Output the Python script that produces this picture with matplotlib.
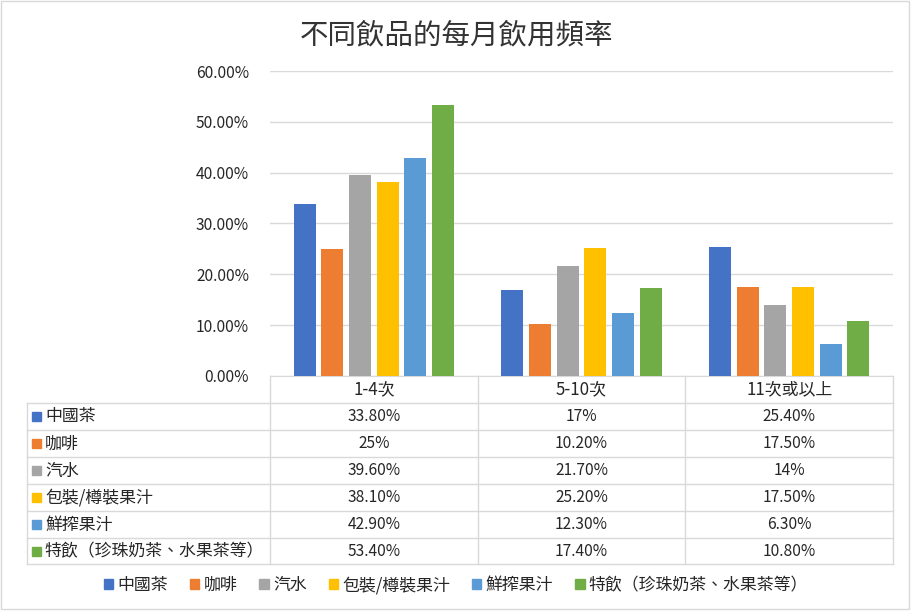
import matplotlib.pyplot as plt
from matplotlib.lines import Line2D
from matplotlib.patches import Rectangle
import numpy as np

plt.rcParams['font.family'] = ['Noto Sans CJK TC', 'DejaVu Sans']

title = '不同飲品的每月飲用頻率'
groups = ['1-4次', '5-10次', '11次或以上']
drinks = ['中國茶', '咖啡', '汽水', '包裝/樽裝果汁', '鮮搾果汁', '特飲（珍珠奶茶、水果茶等）']
tea = [33.8, 17, 25.4]
coffee = [25, 10.2, 17.5]
soda = [39.6, 21.7, 14]
packed_juice = [38.1, 25.2, 17.5]
fresh_juice = [42.9, 12.3, 6.3]
special = [53.4, 17.4, 10.8]
series = [tea, coffee, soda, packed_juice, fresh_juice, special]
colors = ['#4472C4', '#ED7D31', '#A5A5A5', '#FFC000', '#5B9BD5', '#70AD47']

W, H = 911, 612
line_c = '#d9d9d9'
txt_c = '#262626'
fs = 11.2
fs_cjk = 12.2

def fx(x):
    return x / W

def fy(y):
    return 1 - y / H

def fmt(v):
    if abs(v - round(v)) < 1e-9:
        return '%d%%' % round(v)
    return '%.2f%%' % v

fig = plt.figure(figsize=(W / 100, H / 100), dpi=100)

# chart border
fig.add_artist(Rectangle((fx(1), fy(609)), fx(908), fy(1) - fy(609),
                         transform=fig.transFigure, fill=False, ec=line_c, lw=1))

left, right, top, bottom = 270, 893, 71, 376
ax = fig.add_axes([fx(left), fy(bottom), fx(right - left), fy(top) - fy(bottom)])

step = 0.133
width = 0.106
x = np.arange(len(groups)) + 0.5
for i, vals in enumerate(series):
    off = (i - 2.5) * step
    ax.bar(x + off, np.array(vals) / 100, width=width, color=colors[i], zorder=3)

ax.set_xlim(0, 3)
ax.set_ylim(0, 0.6)
ax.set_yticks(np.arange(0, 0.61, 0.1))
ax.set_yticklabels(['%.2f%%' % (t * 100) for t in np.arange(0, 0.61, 0.1)],
                   fontsize=fs, color=txt_c)
ax.tick_params(axis='y', length=0, pad=15)
ax.set_xticks([])
ax.grid(axis='y', color=line_c, lw=1, zorder=0)
for s in ['top', 'right', 'left']:
    ax.spines[s].set_visible(False)
ax.spines['bottom'].set_color(line_c)
ax.patch.set_alpha(0)

fig.text(fx(456), fy(35), title, ha='center', va='center', fontsize=20.5, color='#333333')

# data table
col_x = [270, 477.7, 685.3, 893]
row_y = [376, 403, 430, 457, 484, 511, 538, 564]
tab_left = 27

def hline(y, x0, x1):
    fig.add_artist(Line2D([fx(x0), fx(x1)], [fy(y), fy(y)], transform=fig.transFigure,
                          color=line_c, lw=1))

def vline(x, y0, y1):
    fig.add_artist(Line2D([fx(x), fx(x)], [fy(y0), fy(y1)], transform=fig.transFigure,
                          color=line_c, lw=1))

for y in row_y[1:]:
    hline(y, tab_left, col_x[-1])
vline(tab_left, row_y[1], row_y[-1])
for cx in col_x:
    vline(cx, row_y[0], row_y[-1])

for j, g in enumerate(groups):
    cx = (col_x[j] + col_x[j + 1]) / 2
    fig.text(fx(cx), fy((row_y[0] + row_y[1]) / 2), g, ha='center', va='center',
             fontsize=fs_cjk, color=txt_c)

for i, name in enumerate(drinks):
    cy = (row_y[i + 1] + row_y[i + 2]) / 2
    fig.add_artist(Rectangle((fx(32), fy(cy + 4.5)), fx(9), fy(0) - fy(9),
                             transform=fig.transFigure, color=colors[i]))
    fig.text(fx(45), fy(cy), name, ha='left', va='center', fontsize=fs_cjk, color=txt_c)
    for j in range(len(groups)):
        cx = (col_x[j] + col_x[j + 1]) / 2
        fig.text(fx(cx), fy(cy), fmt(series[i][j]), ha='center', va='center',
                 fontsize=fs, color=txt_c)

# legend
handles = [Rectangle((0, 0), 1, 1, color=c) for c in colors]
leg = fig.legend(handles, drinks, loc='center', bbox_to_anchor=(fx(456), fy(585)),
                 ncol=6, frameon=False, fontsize=fs_cjk, handlelength=0.55, handleheight=0.55,
                 handletextpad=0.25, columnspacing=1.3, labelcolor=txt_c)

fig.savefig('out.png', dpi=100)
